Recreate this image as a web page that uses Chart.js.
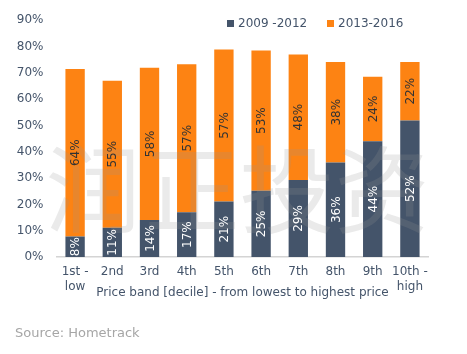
<!DOCTYPE html>
<html>
<head>
<meta charset="utf-8">
<script src="https://cdn.jsdelivr.net/npm/chart.js@4.4.1/dist/chart.umd.min.js"></script>
<style>
  html, body { margin: 0; padding: 0; background: #fff; }
  #wrap { width: 467px; height: 354px; position: relative; }
</style>
</head>
<body>
<div id="wrap"><canvas id="c" width="467" height="354"></canvas></div>
<script>
const deciles = [['1st -', 'low'], '2nd', '3rd', '4th', '5th', '6th', '7th', '8th', '9th', ['10th -', 'high']];
const early = [7.8, 11.1, 14.1, 17.0, 21.1, 25.2, 29.3, 35.9, 44.0, 51.9];
const late = [63.7, 55.9, 57.8, 56.3, 57.8, 53.3, 47.7, 38.2, 24.5, 22.2];
const earlyLabels = ['8%', '11%', '14%', '17%', '21%', '25%', '29%', '36%', '44%', '52%'];
const lateLabels = ['64%', '55%', '58%', '57%', '57%', '53%', '48%', '38%', '24%', '22%'];
const seriesNames = ['2009 -2012', '2013-2016'];
const FONT = '"DejaVu Sans", Verdana, sans-serif';
const TXT = '#44546a';

// watermark, legend, in-bar labels, source line
const extras = {
  id: 'extras',
  afterDatasetsDraw(chart) {
    const ctx = chart.ctx;
    ctx.save();
    ctx.font = '95px "Noto Sans CJK SC"';
    ctx.fillStyle = 'rgba(150,150,150,0.2)';
    ctx.textAlign = 'center';
    ctx.textBaseline = 'middle';
    const wm = ['润', '正', '投', '资'];
    const xs = [93, 192, 287, 382];
    wm.forEach((ch, i) => ctx.fillText(ch, xs[i], 190));

    // rotated value labels
    ctx.font = '12px ' + FONT;
    const lists = [earlyLabels, lateLabels];
    const cols = ['#ffffff', '#333333'];
    chart.data.datasets.forEach((ds, di) => {
      chart.getDatasetMeta(di).data.forEach((bar, i) => {
        const cy = (bar.y + bar.base) / 2;
        ctx.save();
        ctx.translate(bar.x, cy);
        ctx.rotate(-Math.PI / 2);
        ctx.fillStyle = cols[di];
        ctx.fillText(lists[di][i], 0, 1);
        ctx.restore();
      });
    });

    // legend
    ctx.textAlign = 'left';
    ctx.font = '12px ' + FONT;
    const lx = [227, 327];
    chart.data.datasets.forEach((ds, di) => {
      ctx.fillStyle = ds.backgroundColor;
      ctx.fillRect(lx[di], 20, 7, 7);
      ctx.fillStyle = TXT;
      ctx.fillText(ds.label, lx[di] + 11, 23.5);
    });

    // source
    ctx.font = '13px ' + FONT;
    ctx.fillStyle = '#a6a6a6';
    ctx.fillText('Source: Hometrack', 15, 334);
    ctx.restore();
  }
};

new Chart(document.getElementById('c'), {
  type: 'bar',
  data: {
    labels: deciles,
    datasets: [
      { label: seriesNames[0], data: early, backgroundColor: '#44546a', barPercentage: 0.52, categoryPercentage: 1 },
      { label: seriesNames[1], data: late, backgroundColor: '#fd8313', barPercentage: 0.52, categoryPercentage: 1 }
    ]
  },
  options: {
    responsive: false,
    animation: false,
    layout: { padding: { left: 0, right: 38.5, top: 14, bottom: 54 } },
    plugins: { legend: { display: false }, tooltip: { enabled: false } },
    scales: {
      x: {
        stacked: true,
        grid: { display: false, drawTicks: false },
        border: { display: true, color: '#d4d4d4', width: 1.5 },
        ticks: { color: TXT, padding: 7.5, autoSkip: false, font: { family: FONT, size: 12, lineHeight: 1.25 }, maxRotation: 0 },
        title: { display: true, text: 'Price band [decile] - from lowest to highest price', color: TXT, font: { family: FONT, size: 12 }, padding: 0 },
        afterFit: s => { s.height = 43; }
      },
      y: {
        stacked: true,
        min: 0, max: 90,
        grid: { display: false, drawTicks: false },
        border: { display: false },
        ticks: { stepSize: 10, color: TXT, padding: 13, font: { family: FONT, size: 12 }, callback: v => v + '%' },
        afterFit: s => { s.width = 56.5; }
      }
    }
  },
  plugins: [extras]
});
</script>
</body>
</html>
